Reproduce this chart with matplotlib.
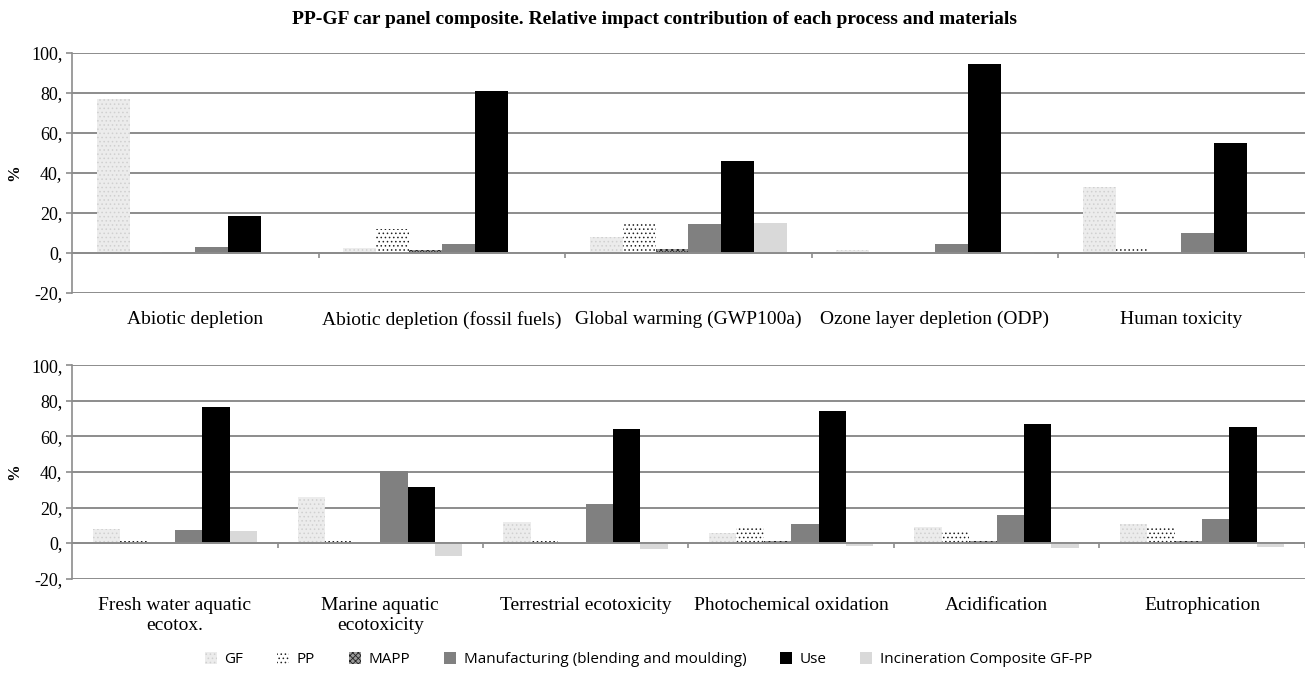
import numpy as np
import matplotlib
matplotlib.use("Agg")
import matplotlib.pyplot as plt
from matplotlib.patches import Patch

plt.rcParams['hatch.linewidth'] = 0.6

title = "PP-GF car panel composite. Relative impact contribution of each process and materials"
series = ["GF", "PP", "MAPP", "Manufacturing (blending and moulding)", "Use",
          "Incineration Composite GF-PP"]

cats_top = ["Abiotic depletion", "Abiotic depletion (fossil fuels)", "Global warming (GWP100a)",
            "Ozone layer depletion (ODP)", "Human toxicity"]
cats_bot = ["Fresh water aquatic\necotox.", "Marine aquatic\necotoxicity", "Terrestrial ecotoxicity",
            "Photochemical oxidation", "Acidification", "Eutrophication"]

# values per series (top panel)
gf_top = [77.0, 2.3, 7.8, 1.3, 32.8]
pp_top = [1.0, 11.8, 14.5, 0.0, 2.0]
mapp_top = [0.0, 1.6, 1.8, 0.0, 0.0]
manu_top = [2.8, 4.3, 14.5, 4.7, 10.0]
use_top = [18.7, 81.0, 46.0, 94.3, 55.0]
inc_top = [0.0, -0.3, 15.2, -0.3, 0.0]

# values per series (bottom panel)
gf_bot = [7.8, 25.7, 12.0, 5.9, 8.9, 10.7]
pp_bot = [1.0, 1.0, 1.0, 8.7, 7.6, 8.7]
mapp_bot = [0.0, 0.0, 0.0, 1.0, 1.0, 1.0]
manu_bot = [7.4, 40.7, 22.0, 10.7, 16.0, 13.7]
use_bot = [76.5, 31.3, 64.4, 74.0, 67.0, 65.2]
inc_bot = [6.9, -7.0, -3.3, -1.8, -2.8, -2.4]

yticks = [-20, 0, 20, 40, 60, 80, 100]
ytick_labels = ["-20,", "0,", "20,", "40,", "60,", "80,", "100,"]

styles = [
    dict(facecolor="#ececec", hatch="....", edgecolor="#d0d0d0"),
    dict(facecolor="white", hatch="....", edgecolor="#222222"),
    dict(facecolor="#9a9a9a", hatch="xxxxxx", edgecolor="#222222"),
    dict(facecolor="#808080", hatch=None, edgecolor="#808080"),
    dict(facecolor="#000000", hatch=None, edgecolor="#000000"),
    dict(facecolor="#d9d9d9", hatch=None, edgecolor="#d9d9d9"),
]

serif = ["Liberation Serif", "DejaVu Serif"]
fig = plt.figure(figsize=(13.1, 6.8), dpi=100)
fig.text(0.5, 0.972, title, ha="center", va="center", fontsize=14,
         fontweight="bold", family=serif)

grid_c = "#8c8c8c"

def panel(rect, cats, data):
    ax = fig.add_axes(rect)
    n = len(cats)
    x = np.arange(n)
    w = 0.8 / len(data)
    for i, vals in enumerate(data):
        st = styles[i]
        ax.bar(x - 0.4 + w * (i + 0.5), vals, width=w, facecolor=st["facecolor"],
               hatch=st["hatch"], edgecolor=st["edgecolor"], linewidth=0, zorder=3)
    ax.set_xlim(-0.5, n - 0.5)
    ax.set_ylim(-20, 100)
    ax.set_yticks(yticks)
    ax.set_yticklabels(ytick_labels, family=serif, fontsize=13)
    ax.yaxis.grid(True, color=grid_c, linewidth=1.4, zorder=0)
    ax.set_axisbelow(True)
    ax.set_xticks(x)
    ax.set_xticklabels(cats, family=serif, fontsize=14, linespacing=1.25)
    ax.tick_params(axis="x", length=0, pad=13)
    ax.tick_params(axis="y", length=4, color=grid_c, width=1.2, pad=3)
    for s in ["top", "right", "bottom"]:
        ax.spines[s].set_visible(False)
    ax.spines["left"].set_color(grid_c)
    ax.spines["left"].set_linewidth(1.2)
    ax.axhline(0, color=grid_c, linewidth=1.4, zorder=4)
    bounds = np.arange(1, n + 1) - 0.5
    ax.vlines(bounds, -2.6, 0, color=grid_c, linewidth=1.2, zorder=4)
    ax.set_ylabel("%", family=serif, fontsize=12, fontweight="bold", labelpad=6)
    return ax

top_data = [gf_top, pp_top, mapp_top, manu_top, use_top, inc_top]
bot_data = [gf_bot, pp_bot, mapp_bot, manu_bot, use_bot, inc_bot]

panel([0.055, 0.569, 0.941, 0.353], cats_top, top_data)
panel([0.055, 0.149, 0.941, 0.314], cats_bot, bot_data)

handles = [Patch(facecolor=s["facecolor"], hatch=s["hatch"], edgecolor=s["edgecolor"],
                 linewidth=0) for s in styles]
fig.legend(handles, series, loc="center", bbox_to_anchor=(0.495, 0.03), ncol=6,
           frameon=False, prop={"family": ["Open Sans", "DejaVu Sans"], "size": 11},
           handlelength=0.8, handleheight=0.8, handletextpad=0.5, columnspacing=2.2)

fig.savefig("out.png", dpi=100)
